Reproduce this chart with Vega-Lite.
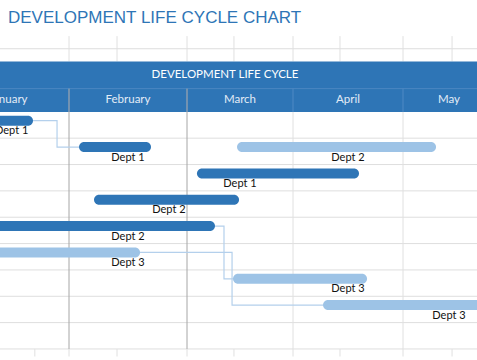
{
  "$schema": "https://vega.github.io/schema/vega-lite/v6.json",
  "width": 477,
  "height": 360,
  "padding": 0,
  "autosize": {"type": "fit", "contains": "padding"},
  "background": "#ffffff",
  "view": {"stroke": null},
  "datasets": {
    "tasks": [
      {"dept": "Dept 1", "row": 0, "start": 0.25, "end": 0.705, "group": "primary", "labelAt": 0.53},
      {"dept": "Dept 1", "row": 1, "start": 1.085, "end": 1.695, "group": "primary", "labelAt": 1.5},
      {"dept": "Dept 2", "row": 1, "start": 2.472, "end": 4.359, "group": "secondary", "labelAt": 3.5},
      {"dept": "Dept 1", "row": 2, "start": 2.094, "end": 3.6, "group": "primary", "labelAt": 2.5},
      {"dept": "Dept 2", "row": 3, "start": 1.212, "end": 2.491, "group": "primary", "labelAt": 1.847},
      {"dept": "Dept 2", "row": 4, "start": 0.1, "end": 2.264, "group": "primary", "labelAt": 1.5},
      {"dept": "Dept 3", "row": 5, "start": 0.1, "end": 1.602, "group": "secondary", "labelAt": 1.5},
      {"dept": "Dept 3", "row": 6, "start": 2.434, "end": 3.673, "group": "secondary", "labelAt": 3.5},
      {"dept": "Dept 3", "row": 7, "start": 3.273, "end": 4.9, "group": "secondary", "labelAt": 4.5}
    ],
    "links": [
      {"link": "a", "step": 0, "x": 0.705, "row": 0},
      {"link": "a", "step": 1, "x": 0.902, "row": 0},
      {"link": "a", "step": 2, "x": 0.902, "row": 1},
      {"link": "a", "step": 3, "x": 1.085, "row": 1},
      {"link": "b", "step": 0, "x": 2.264, "row": 4},
      {"link": "b", "step": 1, "x": 2.349, "row": 4},
      {"link": "b", "step": 2, "x": 2.349, "row": 6},
      {"link": "b", "step": 3, "x": 2.434, "row": 6},
      {"link": "c", "step": 0, "x": 1.602, "row": 5},
      {"link": "c", "step": 1, "x": 2.425, "row": 5},
      {"link": "c", "step": 2, "x": 2.425, "row": 7},
      {"link": "c", "step": 3, "x": 3.273, "row": 7}
    ],
    "months": [
      {"month": "January", "mid": 0.5},
      {"month": "February", "mid": 1.5},
      {"month": "March", "mid": 2.5},
      {"month": "April", "mid": 3.5},
      {"month": "May", "mid": 4.5}
    ],
    "hgrid": [
      {"edge": -2.731}, {"edge": 0.664}, {"edge": 1.664}, {"edge": 2.664}, {"edge": 3.664},
      {"edge": 4.664}, {"edge": 5.664}, {"edge": 6.664}, {"edge": 7.664}, {"edge": 8.664}
    ],
    "vgrid": [
      {"col": 1.0, "top": -3.21, "bottom": -2.251},
      {"col": 1.407, "top": -3.21, "bottom": -2.251},
      {"col": 2.0, "top": -3.21, "bottom": -2.251},
      {"col": 2.443, "top": -3.21, "bottom": -2.251},
      {"col": 3.0, "top": -3.21, "bottom": -2.251},
      {"col": 3.427, "top": -3.21, "bottom": -2.251},
      {"col": 4.0, "top": -3.21, "bottom": -2.251},
      {"col": 4.533, "top": -3.21, "bottom": -2.251},
      {"col": 3.0, "top": -0.332, "bottom": 8.664},
      {"col": 4.0, "top": -0.332, "bottom": 8.664},
      {"col": 0.72, "top": 8.664, "bottom": 8.95},
      {"col": 1.0, "top": 8.664, "bottom": 8.95},
      {"col": 1.407, "top": 8.664, "bottom": 8.95},
      {"col": 2.0, "top": 8.664, "bottom": 8.95},
      {"col": 2.443, "top": 8.664, "bottom": 8.95},
      {"col": 3.0, "top": 8.664, "bottom": 8.95},
      {"col": 3.427, "top": 8.664, "bottom": 8.95},
      {"col": 4.0, "top": 8.664, "bottom": 8.95},
      {"col": 4.533, "top": 8.664, "bottom": 8.95}
    ],
    "monthEdges": [{"col": 1.0}, {"col": 2.0}, {"col": 3.0}, {"col": 4.0}],
    "heading": [{"text": "DEVELOPMENT LIFE CYCLE", "title": "DEVELOPMENT LIFE CYCLE CHART"}]
  },
  "layer": [
    {
      "data": {"name": "hgrid"},
      "mark": {"type": "rule", "color": "#dedede", "strokeWidth": 1, "clip": true},
      "encoding": {
        "y": {"field": "edge", "type": "quantitative", "axis": null, "scale": {"domain": [-4.391, 8.893], "reverse": true, "nice": false, "zero": false}},
        "x": {"datum": 0, "type": "quantitative", "axis": null, "scale": {"domain": [0, 1, 2, 3, 4, 5], "range": [-53, 69, 187, 293, 403, 495], "nice": false, "zero": false}},
        "x2": {"datum": 5}
      }
    },
    {
      "data": {"name": "vgrid"},
      "mark": {"type": "rule", "color": "#e0e0e0", "strokeWidth": 1, "clip": true},
      "encoding": {
        "x": {"field": "col", "type": "quantitative", "axis": null, "scale": {"domain": [0, 1, 2, 3, 4, 5], "range": [-53, 69, 187, 293, 403, 495], "nice": false, "zero": false}},
        "y": {"field": "top", "type": "quantitative", "axis": null, "scale": {"domain": [-4.391, 8.893], "reverse": true, "nice": false, "zero": false}},
        "y2": {"field": "bottom"}
      }
    },
    {
      "data": {"name": "heading"},
      "mark": {"type": "rect", "color": "#2e75b6", "clip": true},
      "encoding": {
        "x": {"datum": 0, "type": "quantitative", "axis": null, "scale": {"domain": [0, 1, 2, 3, 4, 5], "range": [-53, 69, 187, 293, 403, 495], "nice": false, "zero": false}},
        "x2": {"datum": 5},
        "y": {"datum": -2.251, "type": "quantitative", "axis": null, "scale": {"domain": [-4.391, 8.893], "reverse": true, "nice": false, "zero": false}},
        "y2": {"datum": -0.332}
      }
    },
    {
      "data": {"name": "heading"},
      "mark": {"type": "rule", "color": "#4a86c2", "strokeWidth": 1, "clip": true},
      "encoding": {
        "x": {"datum": 0, "type": "quantitative", "axis": null, "scale": {"domain": [0, 1, 2, 3, 4, 5], "range": [-53, 69, 187, 293, 403, 495], "nice": false, "zero": false}},
        "x2": {"datum": 5},
        "y": {"datum": -1.218, "type": "quantitative", "axis": null, "scale": {"domain": [-4.391, 8.893], "reverse": true, "nice": false, "zero": false}}
      }
    },
    {
      "data": {"name": "monthEdges"},
      "mark": {"type": "rule", "color": "#4f8ac4", "strokeWidth": 1, "clip": true},
      "encoding": {
        "x": {"field": "col", "type": "quantitative", "axis": null, "scale": {"domain": [0, 1, 2, 3, 4, 5], "range": [-53, 69, 187, 293, 403, 495], "nice": false, "zero": false}},
        "y": {"datum": -1.218, "type": "quantitative", "axis": null, "scale": {"domain": [-4.391, 8.893], "reverse": true, "nice": false, "zero": false}},
        "y2": {"datum": -0.332}
      }
    },
    {
      "data": {"name": "heading"},
      "mark": {"type": "text", "color": "#ffffff", "font": "Lato", "fontSize": 11.5, "align": "center", "baseline": "middle", "clip": true},
      "encoding": {
        "text": {"field": "text"},
        "x": {"datum": 2.358, "type": "quantitative", "axis": null, "scale": {"domain": [0, 1, 2, 3, 4, 5], "range": [-53, 69, 187, 293, 403, 495], "nice": false, "zero": false}},
        "y": {"datum": -1.753, "type": "quantitative", "axis": null, "scale": {"domain": [-4.391, 8.893], "reverse": true, "nice": false, "zero": false}}
      }
    },
    {
      "data": {"name": "months"},
      "mark": {"type": "text", "color": "#e3ecf6", "font": "Lato", "fontSize": 11.5, "align": "center", "baseline": "middle", "clip": true},
      "encoding": {
        "text": {"field": "month"},
        "x": {"field": "mid", "type": "quantitative", "axis": null, "scale": {"domain": [0, 1, 2, 3, 4, 5], "range": [-53, 69, 187, 293, 403, 495], "nice": false, "zero": false}},
        "y": {"datum": -0.793, "type": "quantitative", "axis": null, "scale": {"domain": [-4.391, 8.893], "reverse": true, "nice": false, "zero": false}}
      }
    },
    {
      "data": {"name": "monthEdges"},
      "transform": [{"filter": "datum.col <= 2"}],
      "mark": {"type": "rule", "color": "#a6a6a6", "strokeWidth": 1, "clip": true},
      "encoding": {
        "x": {"field": "col", "type": "quantitative", "axis": null, "scale": {"domain": [0, 1, 2, 3, 4, 5], "range": [-53, 69, 187, 293, 403, 495], "nice": false, "zero": false}},
        "y": {"datum": -1.218, "type": "quantitative", "axis": null, "scale": {"domain": [-4.391, 8.893], "reverse": true, "nice": false, "zero": false}},
        "y2": {"datum": 8.664}
      }
    },
    {
      "data": {"name": "links"},
      "mark": {"type": "line", "color": "#b4d0ec", "strokeWidth": 1.2, "interpolate": "linear", "clip": true},
      "encoding": {
        "x": {"field": "x", "type": "quantitative", "axis": null, "scale": {"domain": [0, 1, 2, 3, 4, 5], "range": [-53, 69, 187, 293, 403, 495], "nice": false, "zero": false}},
        "y": {"field": "row", "type": "quantitative", "axis": null, "scale": {"domain": [-4.391, 8.893], "reverse": true, "nice": false, "zero": false}},
        "detail": {"field": "link"},
        "order": {"field": "step"}
      }
    },
    {
      "data": {"name": "tasks"},
      "mark": {"type": "bar", "orient": "horizontal", "size": 10, "cornerRadius": 5, "clip": true},
      "encoding": {
        "x": {"field": "start", "type": "quantitative", "axis": null, "scale": {"domain": [0, 1, 2, 3, 4, 5], "range": [-53, 69, 187, 293, 403, 495], "nice": false, "zero": false}},
        "x2": {"field": "end"},
        "y": {"field": "row", "type": "quantitative", "axis": null, "scale": {"domain": [-4.391, 8.893], "reverse": true, "nice": false, "zero": false}},
        "color": {"field": "group", "type": "nominal", "legend": null, "scale": {"domain": ["primary", "secondary"], "range": ["#2e75b6", "#9dc3e6"]}}
      }
    },
    {
      "data": {"name": "tasks"},
      "mark": {"type": "text", "color": "#111111", "font": "Lato", "fontSize": 11, "align": "center", "baseline": "alphabetic", "dy": 13.5, "clip": true},
      "encoding": {
        "text": {"field": "dept"},
        "x": {"field": "labelAt", "type": "quantitative", "axis": null, "scale": {"domain": [0, 1, 2, 3, 4, 5], "range": [-53, 69, 187, 293, 403, 495], "nice": false, "zero": false}},
        "y": {"field": "row", "type": "quantitative", "axis": null, "scale": {"domain": [-4.391, 8.893], "reverse": true, "nice": false, "zero": false}}
      }
    },
    {
      "data": {"name": "heading"},
      "mark": {"type": "text", "color": "#2e75b6", "font": "Liberation Sans", "fontSize": 17, "align": "left", "baseline": "alphabetic", "clip": true},
      "encoding": {
        "text": {"field": "title"},
        "x": {"datum": 0.5, "type": "quantitative", "axis": null, "scale": {"domain": [0, 1, 2, 3, 4, 5], "range": [-53, 69, 187, 293, 403, 495], "nice": false, "zero": false}},
        "y": {"datum": -3.716, "type": "quantitative", "axis": null, "scale": {"domain": [-4.391, 8.893], "reverse": true, "nice": false, "zero": false}}
      }
    }
  ]
}
